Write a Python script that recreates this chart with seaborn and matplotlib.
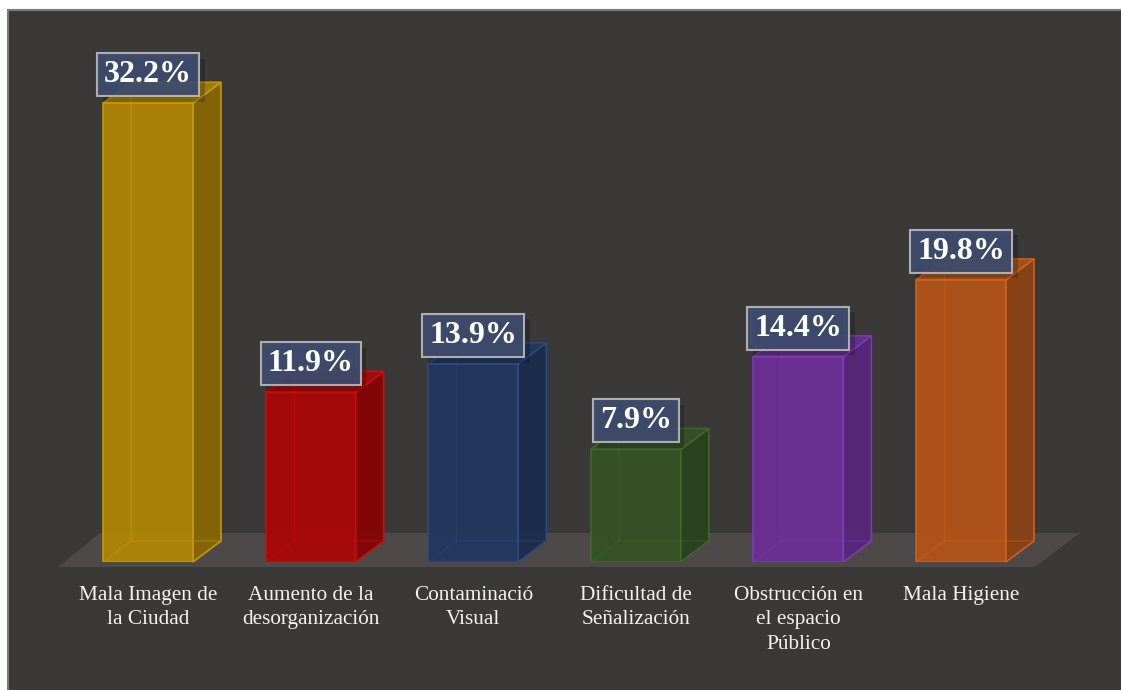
import matplotlib
matplotlib.use("Agg")
import matplotlib.pyplot as plt
from matplotlib.patches import Polygon, Rectangle
import matplotlib.patheffects as pe
import seaborn as sns
import numpy as np

categories = [
    "Mala Imagen de\nla Ciudad",
    "Aumento de la\ndesorganización",
    "Contaminació\nVisual",
    "Dificultad de\nSeñalización",
    "Obstrucción en\nel espacio\nPúblico",
    "Mala Higiene",
]
values = [32.2, 11.9, 13.9, 7.9, 14.4, 19.8]
labels = ["32.2%", "11.9%", "13.9%", "7.9%", "14.4%", "19.8%"]

front_colors = ["#b08604", "#aa0707", "#22365f", "#355226", "#6b2f96", "#b25419"]
side_colors = ["#876704", "#860505", "#1b2c4d", "#2a421f", "#56287a", "#8c4216"]
edge_colors = ["#c99b06", "#d00c0c", "#2d4a86", "#3f6a2a", "#7d3cb3", "#d0621c"]

BG = "#3a3937"
W, H = 1121, 690
DPI = 100

sns.set_theme(style="white")
plt.rcParams["font.family"] = ["Liberation Serif", "DejaVu Serif"]

fig = plt.figure(figsize=(W / DPI, H / DPI), dpi=DPI)
fig.patch.set_facecolor("white")

# chart frame
frame = Rectangle((7.5 / W, -0.01), 1.02, (H - 10) / H + 0.01, transform=fig.transFigure,
                  facecolor=BG, edgecolor="#7a7a7a", linewidth=1.5, zorder=-10)
fig.patches.append(frame)

# axes: pixel rows 40..562, columns 20..1100
ax_left, ax_right = 20, 1100
ax_top, ax_bottom = 40, 562
ax = fig.add_axes([ax_left / W, (H - ax_bottom) / H, (ax_right - ax_left) / W, (ax_bottom - ax_top) / H])
ax.set_facecolor("none")

px_per_cat = 162.6
px_per_unit = 14.25
bar_w = 90 / px_per_cat

sns.barplot(x=categories, y=values, hue=categories, palette=front_colors, legend=False,
            width=bar_w, ax=ax, saturation=1, zorder=3)

ax.set_xlim((ax_left - 148) / px_per_cat, (ax_right - 148) / px_per_cat)
ax.set_ylim(0, (ax_bottom - ax_top) / px_per_unit)

# depth of the 3D boxes, in data units
dx = 28 / px_per_cat
dy = 21 / px_per_unit

# floor
fl = [((58 - 148) / px_per_cat, -5 / px_per_unit),
      ((1035 - 148) / px_per_cat, -5 / px_per_unit),
      ((1080 - 148) / px_per_cat, 29 / px_per_unit),
      ((100 - 148) / px_per_cat, 29 / px_per_unit)]
ax.add_patch(Polygon(fl, closed=True, facecolor="#4c4948", edgecolor="none", zorder=1, clip_on=False))

pt = 72 / DPI  # points per pixel

for i, p in enumerate(ax.patches[:len(values)]):
    x0 = p.get_x()
    w = p.get_width()
    h = p.get_height()
    x1 = x0 + w
    ec = edge_colors[i]
    p.set_edgecolor(ec)
    p.set_linewidth(1.2)
    p.set_alpha(0.95)
    # hidden back edges
    ax.plot([x0 + dx, x0 + dx], [dy, h + dy], color=ec, lw=1, alpha=0.4, zorder=3.6)
    ax.plot([x0, x0 + dx, x1 + dx], [0, dy, dy], color=ec, lw=1, alpha=0.4, zorder=3.6)
    # side face
    side = [(x1, 0), (x1 + dx, dy), (x1 + dx, h + dy), (x1, h)]
    ax.add_patch(Polygon(side, closed=True, facecolor=side_colors[i], edgecolor=ec,
                         linewidth=1.2, alpha=0.95, zorder=3, clip_on=False))
    # top face
    top = [(x0, h), (x1, h), (x1 + dx, h + dy), (x0 + dx, h + dy)]
    ax.add_patch(Polygon(top, closed=True, facecolor=front_colors[i], edgecolor=ec,
                         linewidth=1.2, alpha=0.85, zorder=3.5, clip_on=False))
    # value label
    t = ax.annotate(labels[i], xy=(x0 + w / 2, h), xytext=(0, 28.5 * pt),
                    textcoords="offset points", ha="center", va="center",
                    fontsize=23, fontweight="bold", color="white", zorder=6,
                    bbox=dict(boxstyle="square,pad=0.22", facecolor="#3e4c6e", alpha=0.92,
                              edgecolor="#b9b9b9", linewidth=1.5))
    t.get_bbox_patch().set_path_effects([
        pe.SimplePatchShadow(offset=(4, -4), shadow_rgbFace="black", alpha=0.2),
        pe.Normal(),
    ])

ax.tick_params(axis="x", length=0, pad=17, labelsize=15.3, labelcolor="#f2f2f2")
for t in ax.get_xticklabels():
    t.set_linespacing(1.4)
    t.set_va("top")
ax.set_yticks([])
ax.set_xlabel("")
ax.set_ylabel("")
sns.despine(ax=ax, left=True, bottom=True)

fig.savefig("out.png", dpi=DPI, facecolor=fig.get_facecolor())
